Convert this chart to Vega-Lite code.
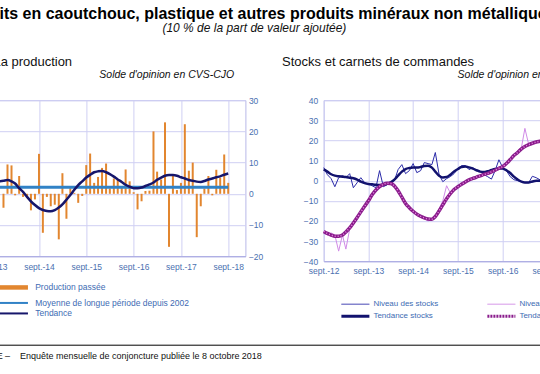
{
"$schema": "https://vega.github.io/schema/vega-lite/v6.json",
"padding": {"left": -61.6, "top": 6.2, "right": 0, "bottom": 0},
"title": {"text": "Produits en caoutchouc, plastique et autres produits minéraux non métalliques", "subtitle": "(10 % de la part de valeur ajoutée)", "anchor": "middle", "frame": "group", "dx": 315, "fontSize": 16, "fontWeight": "bold", "color": "#000000", "subtitleFontSize": 12, "subtitleFontStyle": "italic", "subtitleColor": "#111111", "subtitlePadding": 1, "offset": 21},
"spacing": 21,
"vconcat": [
{
"hconcat": [
{
"width": 306, "height": 156,
"title": {"text": "La production", "anchor": "start", "frame": "group", "dx": 54, "fontSize": 13, "fontWeight": "normal", "color": "#111111", "offset": 1},
"encoding": {
  "x": {"field": "date", "type": "temporal", "scale": {"type": "utc", "domain": [{"year": 2012, "month": 9, "date": 1, "utc": true}, {"year": 2018, "month": 12, "date": 4, "utc": true}]},
        "axis": {"values": [{"year": 2013, "month": 9, "date": 1, "utc": true}, {"year": 2014, "month": 9, "date": 1, "utc": true}, {"year": 2015, "month": 9, "date": 1, "utc": true}, {"year": 2016, "month": 9, "date": 1, "utc": true}, {"year": 2017, "month": 9, "date": 1, "utc": true}, {"year": 2018, "month": 9, "date": 1, "utc": true}],
                 "labelExpr": "'sept.-' + utcFormat(datum.value, '%y')", "grid": true, "labelFlush": false, "labelOverlap": false, "labelPadding": 6, "title": null}}
},
"layer": [
{"data": {"name": "prod"}, "mark": {"type": "bar", "color": "#e2862f", "size": 2},
 "encoding": {
  "y": {"field": "v", "type": "quantitative", "scale": {"domain": [-20, 30], "nice": false, "zero": false},
        "axis": {"orient": "right", "values": [-20, -10, 0, 10, 20, 30], "grid": true, "domain": false, "labelPadding": 3, "labelOverlap": false, "labelFlush": false,
                 "title": "Solde d'opinion en CVS-CJO", "titleAngle": 0, "titleAlign": "right", "titleBaseline": "alphabetic", "titleX": -11.7, "titleY": -22.5, "titleFontStyle": "italic", "titleFontWeight": "normal", "titleFontSize": 10.5, "titleColor": "#111111"}}
 }},
{"data": {"name": "ltrend"}, "mark": {"type": "line", "strokeWidth": 3},
 "encoding": {
  "y": {"field": "moy", "type": "quantitative", "scale": {"domain": [-20, 30], "nice": false, "zero": false},
        "axis": {"orient": "right", "values": [-20, -10, 0, 10, 20, 30], "grid": true, "domain": false, "labelPadding": 3, "labelOverlap": false, "labelFlush": false,
                 "title": "Solde d'opinion en CVS-CJO", "titleAngle": 0, "titleAlign": "right", "titleBaseline": "alphabetic", "titleX": -11.7, "titleY": -22.5, "titleFontStyle": "italic", "titleFontWeight": "normal", "titleFontSize": 10.5, "titleColor": "#111111"}},
  "color": {"datum": "Moyenne de longue période depuis 2002",
            "scale": {"domain": ["Production passée", "Moyenne de longue période depuis 2002", "Tendance"], "range": ["#e2862f", "#3182c6", "#16166b"]},
            "legend": {"orient": "none", "legendX": 70.3, "legendY": 183, "title": null, "symbolType": "M-2.154,0H2.154", "symbolSize": 169, "rowPadding": 1.5, "labelFontSize": 8.5, "labelColor": "#3d6bb3", "labelOffset": 17, "padding": 0, "labelLimit": 400,
                       "encode": {"symbols": {"update": {"fill": {"value": "transparent"}, "strokeWidth": {"signal": "datum.value === 'Production passée' ? 4.5 : 2"}}}}}}
 }},
{"data": {"name": "ltrend"}, "mark": {"type": "line", "strokeWidth": 2.5, "interpolate": "monotone"},
 "encoding": {
  "y": {"field": "t", "type": "quantitative", "scale": {"domain": [-20, 30], "nice": false, "zero": false},
        "axis": {"orient": "right", "values": [-20, -10, 0, 10, 20, 30], "grid": true, "domain": false, "labelPadding": 3, "labelOverlap": false, "labelFlush": false,
                 "title": "Solde d'opinion en CVS-CJO", "titleAngle": 0, "titleAlign": "right", "titleBaseline": "alphabetic", "titleX": -11.7, "titleY": -22.5, "titleFontStyle": "italic", "titleFontWeight": "normal", "titleFontSize": 10.5, "titleColor": "#111111"}},
  "color": {"datum": "Tendance"}
 }}
]
},
{
"width": 280, "height": 161,
"title": {"text": "Stocks et carnets de commandes", "anchor": "start", "frame": "group", "dx": -41.6, "fontSize": 13, "fontWeight": "normal", "color": "#111111", "offset": 1},
"data": {"name": "stocks"},
"encoding": {
  "x": {"field": "date", "type": "temporal", "scale": {"type": "utc", "domain": [{"year": 2012, "month": 9, "date": 1, "utc": true}, {"year": 2018, "month": 12, "date": 4, "utc": true}]},
        "axis": {"values": [{"year": 2012, "month": 9, "date": 1, "utc": true}, {"year": 2013, "month": 9, "date": 1, "utc": true}, {"year": 2014, "month": 9, "date": 1, "utc": true}, {"year": 2015, "month": 9, "date": 1, "utc": true}, {"year": 2016, "month": 9, "date": 1, "utc": true}, {"year": 2017, "month": 9, "date": 1, "utc": true}, {"year": 2018, "month": 9, "date": 1, "utc": true}],
                 "labelExpr": "'sept.-' + utcFormat(datum.value, '%y')", "grid": true, "labelFlush": false, "labelOverlap": false, "labelPadding": 5, "title": null}},
  "y": {"type": "quantitative", "scale": {"domain": [-40, 40], "nice": false, "zero": false},
        "axis": {"orient": "left", "values": [-40, -30, -20, -10, 0, 10, 20, 30, 40], "grid": true, "domain": false, "labelPadding": 6, "labelOverlap": false, "labelFlush": false,
                 "title": "Solde d'opinion en CVS-CJO", "titleAngle": 0, "titleAlign": "left", "titleBaseline": "alphabetic", "titleX": 133.4, "titleY": -22.5, "titleFontStyle": "italic", "titleFontWeight": "normal", "titleFontSize": 10.5, "titleColor": "#111111"}}
},
"layer": [
{"mark": {"type": "line", "strokeWidth": 1},
 "encoding": {
  "y": {"field": "c"},
  "color": {"datum": "Niveau des carnets de commandes",
            "scale": {"domain": ["Niveau des stocks", "Tendance stocks", "Niveau des carnets de commandes", "Tendance carnets de commandes"], "range": ["#2a2aa8", "#12126e", "#d08ae6", "#8a1c8c"]},
            "legend": {"orient": "none", "legendX": 27.7, "legendY": 200, "title": null, "columns": 2, "columnPadding": 43, "symbolType": "M-2.333,0H2.333", "symbolSize": 144, "rowPadding": 2, "labelFontSize": 8, "labelColor": "#3d6bb3", "labelOffset": 14, "padding": 0, "labelLimit": 400,
                       "encode": {"symbols": {"update": {"fill": {"value": "transparent"}, "strokeWidth": {"signal": "datum.value === 'Tendance stocks' || datum.value === 'Tendance carnets de commandes' ? 3 : 1"}, "strokeDash": {"signal": "datum.value === 'Tendance carnets de commandes' ? [2, 1] : [1, 0]"}}}}}}
 }},
{"mark": {"type": "line", "strokeWidth": 1},
 "encoding": {"y": {"field": "s"}, "color": {"datum": "Niveau des stocks"}}},
{"mark": {"type": "line", "strokeWidth": 2.5, "interpolate": "monotone"},
 "encoding": {"y": {"field": "ts"}, "color": {"datum": "Tendance stocks"}}},
{"mark": {"type": "line", "strokeWidth": 3.5, "interpolate": "monotone"},
 "encoding": {"y": {"field": "tc"}, "color": {"datum": "Tendance carnets de commandes"}}},
{"mark": {"type": "line", "strokeWidth": 1.5, "interpolate": "monotone", "color": "#e68ce0", "strokeDash": [1, 2]},
 "encoding": {"y": {"field": "tc"}}}
]
}
],
"spacing": 78.3,
"bounds": "flush",
"resolve": {"scale": {"color": "independent", "x": "independent", "y": "independent"}, "legend": {"color": "independent"}}
},
{
"width": 664.3, "height": 1,
"view": {"stroke": null},
"data": {"values": [{}]},
"title": {"text": "Source : INSEE –\u00a0\u00a0\u00a0\u00a0Enquête mensuelle de conjoncture publiée le 8 octobre 2018", "orient": "bottom", "anchor": "start", "frame": "group", "dx": 0.3, "fontSize": 9, "fontWeight": "normal", "color": "#111111", "offset": 6},
"mark": {"type": "rule", "color": "#000000", "strokeWidth": 1},
"encoding": {
  "x": {"datum": 0, "type": "quantitative", "scale": {"domain": [0, 1]}, "axis": null},
  "x2": {"datum": 1},
  "y": {"datum": 1, "type": "quantitative", "scale": {"domain": [0, 1]}, "axis": null}
}
}
],
"datasets": {
"prod": [
{"date": "2013-12-01", "v": -4.5}, {"date": "2014-01-01", "v": 9.4}, {"date": "2014-02-01", "v": 9.1}, {"date": "2014-03-01", "v": -0.5},
{"date": "2014-04-01", "v": 5.7}, {"date": "2014-05-01", "v": -1.0}, {"date": "2014-06-01", "v": -1.2}, {"date": "2014-07-01", "v": -5.3},
{"date": "2014-08-01", "v": -1.8}, {"date": "2014-09-01", "v": 12.8}, {"date": "2014-10-01", "v": -12.5}, {"date": "2014-11-01", "v": -1.0},
{"date": "2014-12-01", "v": -4.0}, {"date": "2015-01-01", "v": -3.5}, {"date": "2015-02-01", "v": -14.6}, {"date": "2015-03-01", "v": 6.6},
{"date": "2015-04-01", "v": -8.0}, {"date": "2015-05-01", "v": 1.8}, {"date": "2015-06-01", "v": 0.3}, {"date": "2015-07-01", "v": -2.9},
{"date": "2015-08-01", "v": -0.7}, {"date": "2015-09-01", "v": 9.2}, {"date": "2015-10-01", "v": 12.9}, {"date": "2015-11-01", "v": 3.5},
{"date": "2015-12-01", "v": 5.4}, {"date": "2016-01-01", "v": 8.3}, {"date": "2016-02-01", "v": 9.7}, {"date": "2016-03-01", "v": 1.7},
{"date": "2016-04-01", "v": 4.9}, {"date": "2016-05-01", "v": 4.6}, {"date": "2016-06-01", "v": 2.5}, {"date": "2016-07-01", "v": 7.8},
{"date": "2016-08-01", "v": 4.0}, {"date": "2016-09-01", "v": 0.5}, {"date": "2016-10-01", "v": -5.0}, {"date": "2016-11-01", "v": -2.4},
{"date": "2016-12-01", "v": 0.9}, {"date": "2017-01-01", "v": 1.0}, {"date": "2017-02-01", "v": 20.0}, {"date": "2017-03-01", "v": 7.1},
{"date": "2017-04-01", "v": 4.6}, {"date": "2017-05-01", "v": 22.9}, {"date": "2017-06-01", "v": -17.0}, {"date": "2017-07-01", "v": 5.7},
{"date": "2017-08-01", "v": 1.2}, {"date": "2017-09-01", "v": 3.5}, {"date": "2017-10-01", "v": 22.3}, {"date": "2017-11-01", "v": 7.4},
{"date": "2017-12-01", "v": 10.0}, {"date": "2018-01-01", "v": -13.9}, {"date": "2018-02-01", "v": -4.0}, {"date": "2018-03-01", "v": 1.7},
{"date": "2018-04-01", "v": 5.7}, {"date": "2018-05-01", "v": -0.5}, {"date": "2018-06-01", "v": 7.7}, {"date": "2018-07-01", "v": 5.1},
{"date": "2018-08-01", "v": 12.6}, {"date": "2018-09-01", "v": 3.5}
],
"ltrend": [
{"date": "2013-11-01", "t": 4.0, "moy": 2.1}, {"date": "2013-12-01", "t": 4.2, "moy": 2.1}, {"date": "2014-01-01", "t": 4.4, "moy": 2.1},
{"date": "2014-02-01", "t": 4.0, "moy": 2.1}, {"date": "2014-03-01", "t": 3.3, "moy": 2.1}, {"date": "2014-04-01", "t": 1.8, "moy": 2.1},
{"date": "2014-05-01", "t": 0.6, "moy": 2.1}, {"date": "2014-06-01", "t": -1.0, "moy": 2.1}, {"date": "2014-07-01", "t": -2.4, "moy": 2.1},
{"date": "2014-08-01", "t": -3.6, "moy": 2.1}, {"date": "2014-09-01", "t": -4.6, "moy": 2.1}, {"date": "2014-10-01", "t": -5.2, "moy": 2.1},
{"date": "2014-11-01", "t": -5.5, "moy": 2.1}, {"date": "2014-12-01", "t": -5.6, "moy": 2.1}, {"date": "2015-01-01", "t": -5.2, "moy": 2.1},
{"date": "2015-02-01", "t": -4.4, "moy": 2.1}, {"date": "2015-03-01", "t": -3.4, "moy": 2.1}, {"date": "2015-04-01", "t": -1.9, "moy": 2.1},
{"date": "2015-05-01", "t": -0.4, "moy": 2.1}, {"date": "2015-06-01", "t": 1.3, "moy": 2.1}, {"date": "2015-07-01", "t": 2.8, "moy": 2.1},
{"date": "2015-08-01", "t": 4.0, "moy": 2.1}, {"date": "2015-09-01", "t": 5.2, "moy": 2.1}, {"date": "2015-10-01", "t": 6.1, "moy": 2.1},
{"date": "2015-11-01", "t": 6.9, "moy": 2.1}, {"date": "2015-12-01", "t": 7.2, "moy": 2.1}, {"date": "2016-01-01", "t": 7.3, "moy": 2.1},
{"date": "2016-02-01", "t": 6.9, "moy": 2.1}, {"date": "2016-03-01", "t": 6.3, "moy": 2.1}, {"date": "2016-04-01", "t": 5.5, "moy": 2.1},
{"date": "2016-05-01", "t": 4.6, "moy": 2.1}, {"date": "2016-06-01", "t": 3.8, "moy": 2.1}, {"date": "2016-07-01", "t": 2.9, "moy": 2.1},
{"date": "2016-08-01", "t": 2.3, "moy": 2.1}, {"date": "2016-09-01", "t": 1.8, "moy": 2.1}, {"date": "2016-10-01", "t": 1.8, "moy": 2.1},
{"date": "2016-11-01", "t": 2.0, "moy": 2.1}, {"date": "2016-12-01", "t": 2.5, "moy": 2.1}, {"date": "2017-01-01", "t": 3.0, "moy": 2.1},
{"date": "2017-02-01", "t": 3.6, "moy": 2.1}, {"date": "2017-03-01", "t": 4.5, "moy": 2.1}, {"date": "2017-04-01", "t": 5.2, "moy": 2.1},
{"date": "2017-05-01", "t": 5.8, "moy": 2.1}, {"date": "2017-06-01", "t": 6.0, "moy": 2.1}, {"date": "2017-07-01", "t": 6.0, "moy": 2.1},
{"date": "2017-08-01", "t": 5.8, "moy": 2.1}, {"date": "2017-09-01", "t": 5.3, "moy": 2.1}, {"date": "2017-10-01", "t": 4.9, "moy": 2.1},
{"date": "2017-11-01", "t": 4.4, "moy": 2.1}, {"date": "2017-12-01", "t": 4.2, "moy": 2.1}, {"date": "2018-01-01", "t": 3.9, "moy": 2.1},
{"date": "2018-02-01", "t": 3.8, "moy": 2.1}, {"date": "2018-03-01", "t": 4.1, "moy": 2.1}, {"date": "2018-04-01", "t": 4.6, "moy": 2.1},
{"date": "2018-05-01", "t": 4.9, "moy": 2.1}, {"date": "2018-06-01", "t": 5.3, "moy": 2.1}, {"date": "2018-07-01", "t": 5.6, "moy": 2.1},
{"date": "2018-08-01", "t": 6.1, "moy": 2.1}, {"date": "2018-09-01", "t": 6.5, "moy": 2.1}
],
"stocks": [
{"date": "2012-09-01", "s": 6.5, "ts": 5.6, "c": -26, "tc": -25.2},
{"date": "2012-10-01", "s": 3.0, "ts": 4.5, "c": -27, "tc": -26.2},
{"date": "2012-11-01", "s": 1.0, "ts": 3.2, "c": -26, "tc": -27.0},
{"date": "2012-12-01", "s": -3.0, "ts": 2.5, "c": -27, "tc": -27.6},
{"date": "2013-01-01", "s": 1.5, "ts": 2.2, "c": -35, "tc": -27.6},
{"date": "2013-02-01", "s": 2.5, "ts": 2.0, "c": -27, "tc": -27.0},
{"date": "2013-03-01", "s": 1.5, "ts": 1.8, "c": -34, "tc": -25.5},
{"date": "2013-04-01", "s": 3.5, "ts": 1.5, "c": -24, "tc": -23.5},
{"date": "2013-05-01", "s": -3.5, "ts": 1.2, "c": -21, "tc": -21.0},
{"date": "2013-06-01", "s": -1.0, "ts": 0.5, "c": -19, "tc": -18.3},
{"date": "2013-07-01", "s": 1.5, "ts": -0.5, "c": -16, "tc": -15.5},
{"date": "2013-08-01", "s": -1.0, "ts": -1.2, "c": -12, "tc": -12.7},
{"date": "2013-09-01", "s": -1.5, "ts": -1.6, "c": -10, "tc": -10.0},
{"date": "2013-10-01", "s": -2.5, "ts": -1.8, "c": -7, "tc": -7.0},
{"date": "2013-11-01", "s": -3.5, "ts": -2.0, "c": -5, "tc": -4.6},
{"date": "2013-12-01", "s": 5.0, "ts": -2.1, "c": -3, "tc": -2.9},
{"date": "2014-01-01", "s": -3.0, "ts": -2.0, "c": -2, "tc": -1.8},
{"date": "2014-02-01", "s": -2.0, "ts": -1.5, "c": -1, "tc": -1.3},
{"date": "2014-03-01", "s": -1.0, "ts": -0.8, "c": -0.5, "tc": -1.4},
{"date": "2014-04-01", "s": 0.0, "ts": 0.5, "c": -1.5, "tc": -2.6},
{"date": "2014-05-01", "s": 5.5, "ts": 2.5, "c": -5, "tc": -5.0},
{"date": "2014-06-01", "s": 8.0, "ts": 4.5, "c": -8, "tc": -8.2},
{"date": "2014-07-01", "s": 3.5, "ts": 5.8, "c": -11, "tc": -11.3},
{"date": "2014-08-01", "s": 5.0, "ts": 6.3, "c": -14, "tc": -13.4},
{"date": "2014-09-01", "s": 8.5, "ts": 6.5, "c": -15, "tc": -15.2},
{"date": "2014-10-01", "s": 4.0, "ts": 6.5, "c": -17, "tc": -16.6},
{"date": "2014-11-01", "s": 5.0, "ts": 6.8, "c": -18, "tc": -17.7},
{"date": "2014-12-01", "s": 9.0, "ts": 7.3, "c": -19, "tc": -18.5},
{"date": "2015-01-01", "s": 8.5, "ts": 7.4, "c": -20, "tc": -19.0},
{"date": "2015-02-01", "s": 8.0, "ts": 6.5, "c": -19, "tc": -19.1},
{"date": "2015-03-01", "s": 14.0, "ts": 4.5, "c": -17, "tc": -17.8},
{"date": "2015-04-01", "s": 3.0, "ts": 2.5, "c": -14, "tc": -15.0},
{"date": "2015-05-01", "s": -0.5, "ts": 1.6, "c": -10, "tc": -12.0},
{"date": "2015-06-01", "s": 1.0, "ts": 1.8, "c": -2.5, "tc": -9.0},
{"date": "2015-07-01", "s": 2.0, "ts": 3.0, "c": -6, "tc": -6.5},
{"date": "2015-08-01", "s": 3.5, "ts": 4.6, "c": -4, "tc": -4.4},
{"date": "2015-09-01", "s": 6.0, "ts": 5.8, "c": -3.5, "tc": -3.0},
{"date": "2015-10-01", "s": 7.5, "ts": 6.8, "c": -2, "tc": -1.8},
{"date": "2015-11-01", "s": 7.5, "ts": 7.0, "c": -0.5, "tc": -0.6},
{"date": "2015-12-01", "s": 5.5, "ts": 6.6, "c": 0, "tc": 0.4},
{"date": "2016-01-01", "s": 6.5, "ts": 6.0, "c": 1, "tc": 1.1},
{"date": "2016-02-01", "s": 5.0, "ts": 5.2, "c": 2, "tc": 1.8},
{"date": "2016-03-01", "s": 4.5, "ts": 4.5, "c": 2.5, "tc": 2.4},
{"date": "2016-04-01", "s": 3.0, "ts": 4.3, "c": 3, "tc": 3.1},
{"date": "2016-05-01", "s": 2.0, "ts": 4.7, "c": 3.5, "tc": 3.6},
{"date": "2016-06-01", "s": 0.8, "ts": 5.3, "c": 4.5, "tc": 4.4},
{"date": "2016-07-01", "s": 5.0, "ts": 5.8, "c": 5, "tc": 5.2},
{"date": "2016-08-01", "s": 10.4, "ts": 6.1, "c": 6, "tc": 6.2},
{"date": "2016-09-01", "s": 6.5, "ts": 6.0, "c": 7.5, "tc": 7.0},
{"date": "2016-10-01", "s": 5.0, "ts": 5.2, "c": 8.5, "tc": 8.5},
{"date": "2016-11-01", "s": 2.0, "ts": 3.8, "c": 10, "tc": 10.5},
{"date": "2016-12-01", "s": 0.5, "ts": 2.0, "c": 12.5, "tc": 12.5},
{"date": "2017-01-01", "s": 0.0, "ts": 0.6, "c": 15, "tc": 14.0},
{"date": "2017-02-01", "s": -0.5, "ts": -0.5, "c": 16.5, "tc": 15.8},
{"date": "2017-03-01", "s": -1.0, "ts": -0.9, "c": 26, "tc": 17.0},
{"date": "2017-04-01", "s": -1.0, "ts": -0.9, "c": 18, "tc": 17.9},
{"date": "2017-05-01", "s": 2.2, "ts": -0.4, "c": 18.5, "tc": 18.6},
{"date": "2017-06-01", "s": 1.5, "ts": 0.0, "c": 19, "tc": 19.2},
{"date": "2017-07-01", "s": 0.5, "ts": 0.0, "c": 19.5, "tc": 19.6},
{"date": "2017-08-01", "s": 1.0, "ts": 0.0, "c": 20.5, "tc": 20.0}
]
},
"config": {
  "font": "Liberation Sans",
  "view": {"stroke": "#b8b8e8", "strokeWidth": 1},
  "axis": {"gridColor": "#cfcff3", "gridWidth": 1, "domainColor": "#a8a8e0", "labelColor": "#4a70b0", "labelFontSize": 8.5, "labelFont": "Liberation Sans", "ticks": false},
  "title": {"font": "Liberation Sans", "subtitleFont": "Liberation Sans"},
  "legend": {"labelFont": "Liberation Sans"}
}
}
